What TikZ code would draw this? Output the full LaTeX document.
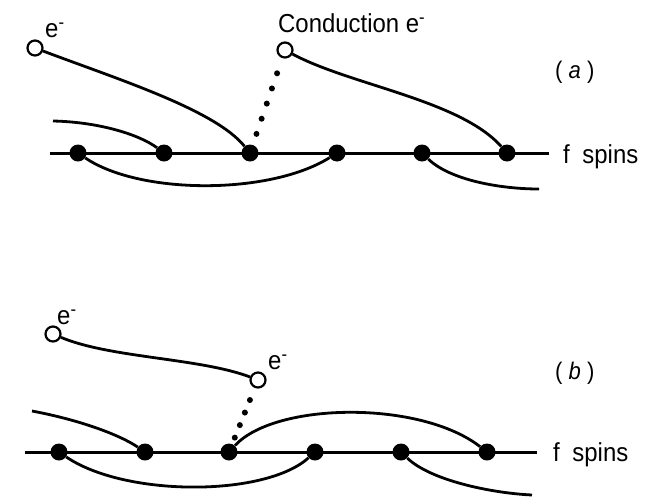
\documentclass[tikz,border=0pt]{standalone}
\usepackage{fontspec}
\setmainfont{Liberation Sans}
\newfontfamily\lblfont[FakeStretch=0.92]{Liberation Sans}
\begin{document}
\begin{tikzpicture}[x=1pt,y=-1pt,
  lw/.style={line width=3pt},
  fdot/.style={circle,fill=black,minimum size=17pt,inner sep=0pt},
  odot/.style={circle,draw=black,fill=white,line width=2.2pt,minimum size=15pt,inner sep=0pt},
  curve/.style={line width=2.8pt},
  dotline/.style={line width=6pt,line cap=round,dash pattern=on 0pt off #1},
  lbl/.style={font=\lblfont\fontsize{26}{28}\selectfont,inner sep=0pt},
  plbl/.style={font=\lblfont\fontsize{24}{28}\selectfont,inner sep=0pt}
]
\useasboundingbox (0,0) rectangle (664,496);

% ---------- panel (a) ----------
\coordinate (la) at (50,153);
\coordinate (ra) at (549,153);
\draw[lw] (la) -- (ra);
\node[fdot] (a1) at (78,153) {};
\node[fdot] (a2) at (164,153) {};
\node[fdot] (a3) at (250,153) {};
\node[fdot] (a4) at (337,153) {};
\node[fdot] (a5) at (422,153) {};
\node[fdot] (a6) at (507,153) {};
\node[odot] (ea) at (35,48) {};
\node[odot] (ca) at (285,50) {};
\coordinate (fa1) at (53,121);
\coordinate (fa2) at (539,189);

\draw[curve] (ea) .. controls (120,80) and (215,110) .. (a3);
\draw[curve] (ca) .. controls (350,85) and (460,100) .. (a6);
\draw[dotline=16pt,shorten <=16pt,shorten >=10pt] (ca) -- (a3);
\draw[curve] (fa1) .. controls (100,122) and (140,135) .. (a2);
\draw[curve] (a1) .. controls (140,195) and (270,195) .. (a4);
\draw[curve] (a5) .. controls (450,180) and (500,189) .. (fa2);

\node[lbl,anchor=west] (tea) at (45,30) {e\textsuperscript{-}};
\node[lbl,anchor=west] (tca) at (278,23) {Conduction e\textsuperscript{-}};
\node[plbl,anchor=west] (pa) at (555,72) {( \textit{a} )};
\node[lbl,anchor=west] (fsa) at (563,157) {f\hspace{6pt} spins};

% ---------- panel (b) ----------
\coordinate (lb) at (25,452);
\coordinate (rb) at (537,452);
\draw[lw] (lb) -- (rb);
\node[fdot] (b1) at (59,452) {};
\node[fdot] (b2) at (145,452) {};
\node[fdot] (b3) at (229,452) {};
\node[fdot] (b4) at (315,452) {};
\node[fdot] (b5) at (401,452) {};
\node[fdot] (b6) at (487,452) {};
\node[odot] (eb1) at (53,334) {};
\node[odot] (eb2) at (258,380) {};
\coordinate (fb1) at (32,411);
\coordinate (fb2) at (532,495);

\draw[curve] (eb1) .. controls (110,358) and (200,358) .. (eb2);
\draw[dotline=13.5pt,shorten <=13pt,shorten >=4pt] (eb2) -- (b3);
\draw[curve] (fb1) .. controls (80,420) and (120,435) .. (b2);
\draw[curve] (b3) .. controls (275,402) and (420,400) .. (b6);
\draw[curve] (b1) .. controls (125,497) and (265,497) .. (b4);
\draw[curve] (b5) .. controls (430,480) and (490,493) .. (fb2);

\node[lbl,anchor=west] (teb1) at (57,317) {e\textsuperscript{-}};
\node[lbl,anchor=west] (teb2) at (268,362) {e\textsuperscript{-}};
\node[plbl,anchor=west] (pb) at (555,373) {( \textit{b} )};
\node[lbl,anchor=west] (fsb) at (553,455) {f\hspace{6pt} spins};
\end{tikzpicture}
\end{document}
